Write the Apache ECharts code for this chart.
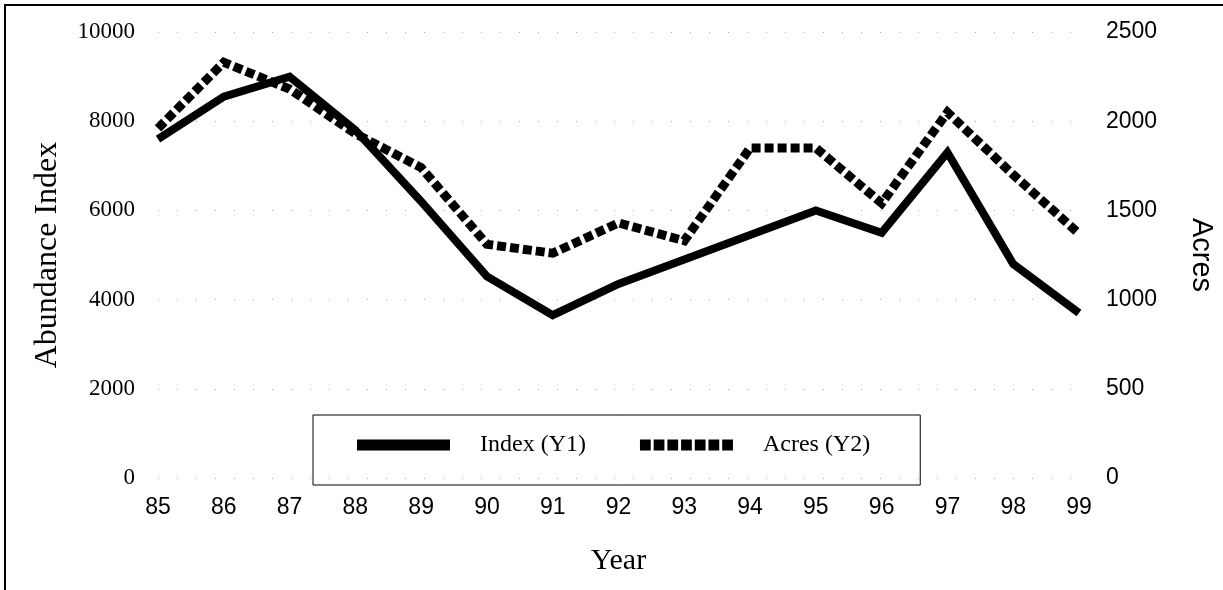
<!DOCTYPE html>
<html>
<head>
<meta charset="utf-8">
<script src="https://cdn.jsdelivr.net/npm/echarts@6/dist/echarts.min.js"></script>
<style>
  html, body { margin: 0; padding: 0; background: #fff; }
  #chart { width: 1223px; height: 590px; }
</style>
</head>
<body>
<div id="chart"></div>
<script>
// categories (year) and both series
var years = ['85', '86', '87', '88', '89', '90', '91', '92', '93', '94', '95', '96', '97', '98', '99'];
var indexY1 = [7600, 8550, 9000, 7800, 6200, 4520, 3650, 4350, 4900, 5450, 6000, 5500, 7300, 4800, 3700];
var acresY2 = [1960, 2330, 2180, 1930, 1740, 1310, 1260, 1430, 1330, 1850, 1850, 1540, 2050, 1700, 1370];
var leftTicks = [0, 10000, 2000];   // min, max, interval
var rightTicks = [0, 2500, 500];

(function() {
	var myChart = echarts.init(document.getElementById('chart'));

	var serif = 'Liberation Serif';
	var sans = 'Liberation Sans';
	// faint dotted grid, as in the scan
	var dotted = { show: true, lineStyle: { color: '#aaaaaa', width: 1, type: [1, 18] } };
	var plain = function(v) { return String(v); };

	// legend sample for the dashed series: a row of 7 squares
	var squares = 'path://';
	for (var i = 0; i < 7; i++) {
		squares += 'M' + (i * 14) + ',0h11v11h-11z';
	}

	var option = {
		animation: false,
		backgroundColor: '#fff',
		// outer frame of the figure
		graphic: [{
			type: 'rect',
			shape: { x: 5, y: 5, width: 1240, height: 600 },
			style: { fill: 'none', stroke: '#000', lineWidth: 2 },
			silent: true
		}],
		grid: { left: 158, right: 143, top: 32, bottom: 112 },
		legend: {
			left: 313,
			top: 415,
			padding: [18, 50, 28, 44],
			borderColor: '#000',
			borderWidth: 1,
			itemWidth: 93,
			itemHeight: 11,
			itemGap: 54,
			textStyle: { fontFamily: serif, fontSize: 24, color: '#000', padding: [0, 0, 0, 25] },
			data: [
				{ name: 'Index (Y1)', icon: 'rect' },
				{ name: 'Acres (Y2)', icon: squares }
			]
		},
		xAxis: {
			type: 'category',
			data: years,
			boundaryGap: false,
			name: 'Year',
			nameLocation: 'middle',
			nameGap: 68,
			nameTextStyle: { fontFamily: serif, fontSize: 30, color: '#000' },
			axisLine: { show: false },
			axisTick: { show: false },
			axisLabel: { fontFamily: sans, fontSize: 23, color: '#000', margin: 18 },
			splitLine: { show: false }
		},
		yAxis: [{
			type: 'value',
			min: leftTicks[0],
			max: leftTicks[1],
			interval: leftTicks[2],
			name: 'Abundance Index',
			nameLocation: 'middle',
			nameGap: 94,
			nameTextStyle: { fontFamily: serif, fontSize: 32, color: '#000' },
			axisLine: { show: false },
			axisTick: { show: false },
			axisLabel: { fontFamily: serif, fontSize: 23, color: '#000', margin: 23, formatter: plain },
			splitLine: dotted
		}, {
			type: 'value',
			min: rightTicks[0],
			max: rightTicks[1],
			interval: rightTicks[2],
			name: 'Acres',
			nameLocation: 'middle',
			nameRotate: -90,
			nameGap: 107,
			nameTextStyle: { fontFamily: sans, fontSize: 29, color: '#000' },
			axisLine: { show: false },
			axisTick: { show: false },
			axisLabel: { fontFamily: sans, fontSize: 23, color: '#000', margin: 27, formatter: plain },
			splitLine: { show: false }
		}],
		series: [{
			name: 'Index (Y1)',
			type: 'line',
			yAxisIndex: 0,
			data: indexY1,
			symbol: 'none',
			lineStyle: { color: '#000', width: 8, join: 'miter' },
			itemStyle: { color: '#000' }
		}, {
			name: 'Acres (Y2)',
			type: 'line',
			yAxisIndex: 1,
			data: acresY2,
			symbol: 'none',
			lineStyle: { color: '#000', width: 9, type: [9, 4], cap: 'butt', join: 'miter' },
			itemStyle: { color: '#000' }
		}]
	};
	myChart.setOption(option);
})();
</script>
</body>
</html>
